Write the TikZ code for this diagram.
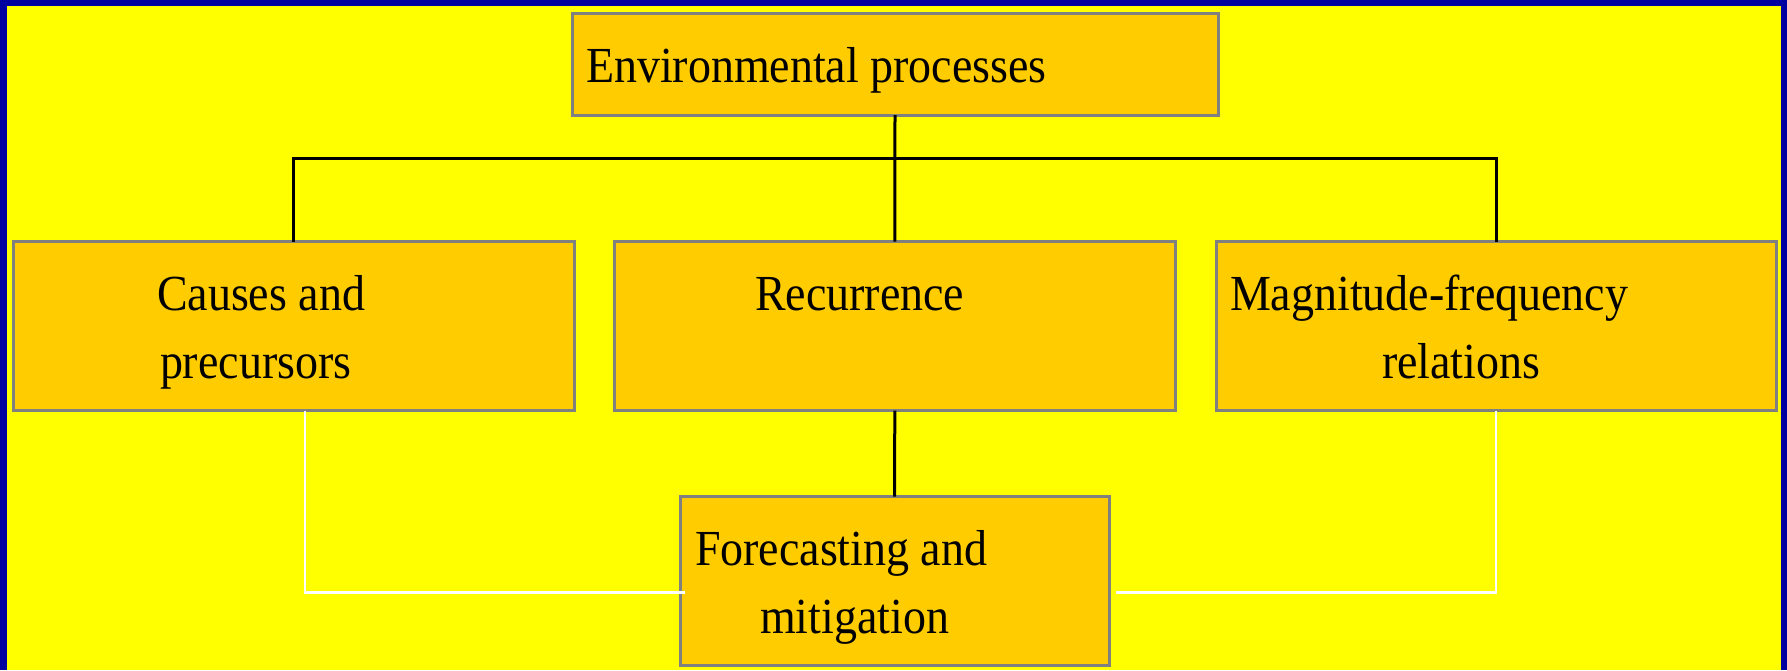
\documentclass[tikz,border=0pt]{standalone}
\usepackage{fontspec}
\setmainfont{Liberation Serif}[FakeStretch=0.91]
\definecolor{bgyellow}{HTML}{FFFF00}
\definecolor{frameblue}{HTML}{0000A0}
\definecolor{boxfill}{HTML}{FFCC00}
\definecolor{boxline}{HTML}{808080}
\begin{document}
\begin{tikzpicture}[x=1pt,y=-1pt,
  box/.style={rectangle, draw=boxline, line width=3pt, fill=boxfill, inner sep=0pt, outer sep=0pt, anchor=north west},
  lbl/.style={anchor=base west, inner sep=0pt, outer sep=0pt, font=\fontsize{50.5}{60}\selectfont},
  conn/.style={line width=3pt, black},
  link/.style={line width=2.2pt, white}]
\useasboundingbox (0,0) rectangle (1787,670);
\fill[frameblue] (0,0) rectangle (1787,670);
\fill[bgyellow] (7,6) rectangle (1781,670);
% boxes
\node[box, minimum width=646pt, minimum height=102pt] (top) at (572,13) {};
\node[box, minimum width=561pt, minimum height=169pt] (causes) at (13.4,241.7) {};
\node[box, minimum width=560.5pt, minimum height=169pt] (rec) at (614.5,241.7) {};
\node[box, minimum width=560.4pt, minimum height=169pt] (mag) at (1216,241.7) {};
\node[box, minimum width=428.6pt, minimum height=169pt] (fore) at (680.4,496.7) {};
% labels
\node[lbl] (tEnv) at (586,82) {Environmental processes};
\node[lbl] (tCa) at (157,310) {Causes and};
\node[lbl] (tCb) at (160,378) {precursors};
\node[lbl] (tRec) at (755,310) {Recurrence};
\node[lbl] (tMa) at (1230,310) {Magnitude-frequency};
\node[lbl] (tMb) at (1382,378) {relations};
\node[lbl] (tFa) at (695,565) {Forecasting and};
\node[lbl] (tFb) at (760,633) {mitigation};
% connectors
\coordinate (bus) at (895,158);
\draw[conn] (top.south) -- (rec.north);
\draw[conn] (causes.north) |- (bus) -| (mag.north);
\draw[conn] (rec.south) -- (fore.north);
\coordinate (wl) at (685,592.5);
\coordinate (wr) at (1116,592.5);
\draw[link] ([xshift=11pt]causes.south) |- (wl);
\draw[link] (mag.south) |- (wr);
\end{tikzpicture}
\end{document}
